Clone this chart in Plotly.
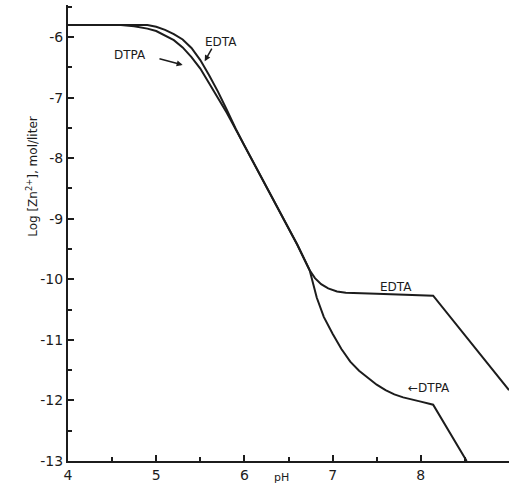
import plotly.graph_objects as go

# Data
ph_dtpa = [4.0, 4.6, 4.75, 4.9, 5.0, 5.1, 5.2, 5.3, 5.4, 5.5, 5.6, 5.72, 5.8, 5.9, 6.0,
           6.2, 6.4, 6.6, 6.74, 6.78, 6.82, 6.9, 7.0, 7.1, 7.2, 7.3, 7.4, 7.5, 7.6,
           7.7, 7.8, 7.9, 8.0, 8.14, 8.52]
log_dtpa = [-5.8, -5.8, -5.82, -5.86, -5.9, -5.97, -6.05, -6.17, -6.33, -6.52, -6.76, -7.07,
            -7.25, -7.52, -7.79, -8.34, -8.89, -9.43, -9.85, -10.08, -10.3, -10.62, -10.9,
            -11.15, -11.36, -11.51, -11.63, -11.74, -11.83, -11.9, -11.95, -11.99, -12.02,
            -12.07, -13.0]

ph_edta = [4.0, 4.9, 5.0, 5.1, 5.2, 5.3, 5.4, 5.5, 5.6, 5.7, 5.8, 5.9, 6.0,
           6.2, 6.4, 6.6, 6.74, 6.8, 6.87, 6.95, 7.05, 7.15, 7.5, 8.14, 9.0]
log_edta = [-5.8, -5.8, -5.83, -5.88, -5.95, -6.04, -6.18, -6.38, -6.63, -6.9, -7.2,
            -7.51, -7.79, -8.34, -8.89, -9.43, -9.85, -9.98, -10.08, -10.15,
            -10.2, -10.22, -10.24, -10.27, -11.83]

x_ticks = [4, 5, 6, 7, 8, 9]
y_ticks = [-6, -7, -8, -9, -10, -11, -12, -13]

FONT = "DejaVu Sans"
INK = "#1c1c1c"

fig = go.Figure()
fig.add_trace(go.Scatter(x=ph_dtpa, y=log_dtpa, mode="lines",
                         line=dict(color=INK, width=2), name="DTPA"))
fig.add_trace(go.Scatter(x=ph_edta, y=log_edta, mode="lines",
                         line=dict(color=INK, width=2), name="EDTA"))

annos = [
    dict(x=5.735, y=-6.08, text="EDTA", showarrow=False),
    dict(x=4.70, y=-6.30, text="DTPA", showarrow=False),
    dict(x=7.72, y=-10.13, text="EDTA", showarrow=False),
    dict(x=8.09, y=-11.79, text="←DTPA", showarrow=False),
    # arrows
    dict(x=5.30, y=-6.46, ax=5.02, ay=-6.35, axref="x", ayref="y", text="",
         showarrow=True, arrowhead=2, arrowsize=0.8, arrowwidth=1.5, arrowcolor=INK),
    dict(x=5.55, y=-6.40, ax=5.64, ay=-6.165, axref="x", ayref="y", text="",
         showarrow=True, arrowhead=2, arrowsize=0.8, arrowwidth=1.5, arrowcolor=INK),
]
for a in annos:
    a.setdefault("font", dict(family=FONT, size=12, color=INK))
    a["xref"] = "x"
    a["yref"] = "y"
    fig.add_annotation(**a)

fig.add_annotation(xref="paper", yref="paper", x=-0.082, y=0.625, xanchor="center",
                   yanchor="middle", text="Log [Zn<sup>2+</sup>], mol/liter", textangle=-90,
                   showarrow=False, font=dict(family=FONT, size=12, color=INK))
fig.add_annotation(xref="paper", yref="paper", x=0.485, y=-0.037, xanchor="center",
                   yanchor="middle", text="pH", showarrow=False,
                   font=dict(family=FONT, size=11, color=INK))

fig.update_layout(
    width=510, height=496,
    margin=dict(l=68, r=1, t=5, b=35),
    paper_bgcolor="white", plot_bgcolor="white",
    showlegend=False,
    xaxis=dict(range=[4, 9], tickvals=x_ticks, ticktext=[str(v) for v in x_ticks],
               ticks="inside", ticklen=6, tickwidth=1.5, tickcolor=INK, automargin=False,
               minor=dict(dtick=0.5, ticks="inside", ticklen=4, tickcolor=INK, tickwidth=1.5),
               showline=True, linecolor=INK, linewidth=2, showgrid=False, zeroline=False,
               tickfont=dict(family=FONT, size=14, color=INK)),
    yaxis=dict(range=[-13, -5.47], tickvals=y_ticks, ticktext=[str(v) for v in y_ticks],
               ticks="inside", ticklen=6, tickwidth=1.5, tickcolor=INK, automargin=False,
               minor=dict(dtick=0.5, ticks="inside", ticklen=4, tickcolor=INK, tickwidth=1.5),
               showline=True, linecolor=INK, linewidth=2, showgrid=False, zeroline=False,
               tickfont=dict(family=FONT, size=14, color=INK)),
)

fig.write_html("out.html", config={"displayModeBar": False},
               post_script="document.body.style.margin='0';document.body.style.padding='0';")
